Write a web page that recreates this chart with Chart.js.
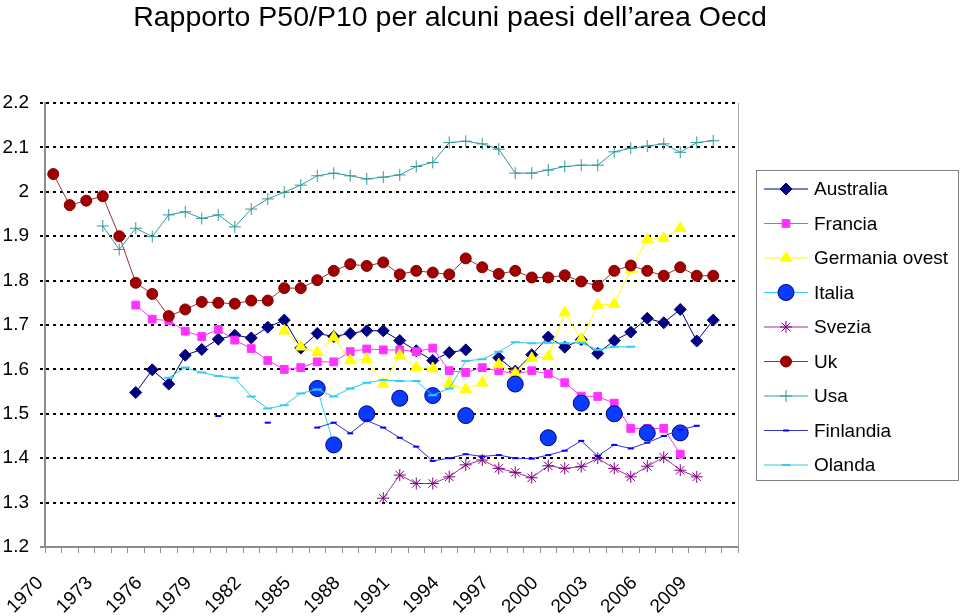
<!DOCTYPE html>
<html>
<head>
<meta charset="utf-8">
<script src="https://cdn.jsdelivr.net/npm/chart.js"></script>
<style>
  html, body { margin: 0; padding: 0; background: #fff; }
  #wrap { position: relative; width: 960px; height: 616px; }
  #title { position: absolute; left: 0; top: 0; width: 900px; text-align: center;
           font: 28.5px/32px 'Liberation Sans', Arial, sans-serif; color: #000; }
  canvas { position: absolute; left: 0; top: 0; }
</style>
</head>
<body>
<div id="wrap">
  <canvas id="chart" width="960" height="616"></canvas>
  <div id="title">Rapporto P50/P10 per alcuni paesi dell’area Oecd</div>
</div>
<script>
const years = ['1970', '1971', '1972', '1973', '1974', '1975', '1976', '1977', '1978', '1979',
  '1980', '1981', '1982', '1983', '1984', '1985', '1986', '1987', '1988', '1989',
  '1990', '1991', '1992', '1993', '1994', '1995', '1996', '1997', '1998', '1999',
  '2000', '2001', '2002', '2003', '2004', '2005', '2006', '2007', '2008', '2009',
  '2010', '2011']

// one value per year, 1970 -> 2011, null where the country has no figure
const australia = [null, null, null, null, null,
  1.548, 1.599, 1.567, 1.632, 1.645, 1.668, 1.677, 1.671, 1.695, 1.711,
  1.648, 1.681, 1.674, 1.681, 1.687, 1.687, 1.665, 1.642, 1.620, 1.638,
  1.644, null, 1.626, 1.596, 1.633, 1.673, 1.650, 1.667, 1.636, 1.665,
  1.684, 1.715, 1.705, 1.735, 1.664, 1.711, null]
const francia = [null, null, null, null, null,
  1.745, 1.713, 1.710, 1.686, 1.674, 1.690, 1.666, 1.647, 1.620, 1.600,
  1.604, 1.617, 1.617, 1.640, 1.646, 1.644, 1.644, 1.640, 1.648, 1.597,
  1.593, 1.604, 1.597, 1.590, 1.597, 1.590, 1.570, 1.540, 1.539, 1.524,
  1.467, 1.467, 1.467, 1.409, null, null, null]
const germaniaOvest = [null, null, null, null, null, null, null, null, null, null,
  null, null, null, null, 1.687, 1.651, 1.638, 1.672, 1.620, 1.623,
  1.567, 1.632, 1.604, 1.602, 1.569, 1.555, 1.570, 1.611, 1.591, 1.625,
  1.629, 1.728, 1.668, 1.745, 1.747, 1.825, 1.893, 1.895, 1.918, null,
  null, null]
const italia = [null, null, null, null, null, null, null, null, null, null,
  null, null, null, null, null, null, 1.557, 1.430, null, 1.500,
  null, 1.535, null, 1.541, null, 1.496, null, null, 1.567, null,
  1.446, null, 1.524, null, 1.500, null, 1.457, null, 1.457, null,
  null, null]
const svezia = [null, null, null, null, null, null, null, null, null, null,
  null, null, null, null, null, null, null, null, null, null,
  1.310, 1.362, 1.343, 1.343, 1.358, 1.385, 1.396, 1.377, 1.368, 1.356,
  1.383, 1.377, 1.381, 1.400, 1.377, 1.358, 1.382, 1.402, 1.373, 1.358,
  null, null]
const uk = [2.040, 1.970, 1.980, 1.990, 1.900, 1.795, 1.770, 1.720, 1.735, 1.752,
  1.750, 1.748, 1.755, 1.755, 1.783, 1.783, 1.801, 1.822, 1.837, 1.833,
  1.841, 1.814, 1.822, 1.818, 1.814, 1.850, 1.830, 1.815, 1.822, 1.807,
  1.807, 1.812, 1.798, 1.788, 1.822, 1.834, 1.822, 1.811, 1.830, 1.811,
  1.811, null]
const usa = [null, null, null, 1.923, 1.870, 1.918, 1.899, 1.948, 1.955, 1.940,
  1.948, 1.921, 1.961, 1.984, 1.999, 2.015, 2.036, 2.042, 2.036, 2.029,
  2.033, 2.038, 2.057, 2.066, 2.111, 2.114, 2.108, 2.096, 2.042, 2.042,
  2.049, 2.057, 2.060, 2.060, 2.090, 2.098, 2.103, 2.108, 2.089, 2.111,
  2.115, null]
const finlandia = [null, null, null, null, null, null, null, null, null, null,
  1.495, null, null, 1.480, null, null, 1.469, 1.480, 1.456, 1.485,
  1.469, 1.446, 1.426, 1.394, 1.400, 1.409, 1.404, 1.407, 1.400, 1.399,
  1.407, 1.417, 1.439, 1.405, 1.430, 1.422, 1.435, 1.450, 1.464, 1.473,
  null, null]
const olanda = [null, null, null, null, null, null, null, 1.581, 1.604, 1.593,
  1.585, 1.581, 1.539, 1.512, 1.519, 1.546, 1.555, 1.539, 1.557, 1.570,
  1.576, 1.574, 1.574, 1.542, 1.557, 1.619, 1.623, 1.640, 1.661, 1.659,
  1.660, 1.659, 1.660, 1.644, 1.651, 1.651, null, null, null, null,
  null, null]

const FONT = "'Liberation Sans', Arial, sans-serif"
Chart.defaults.font.family = FONT
Chart.defaults.color = '#000'

const series = function series(label, data, line, style, radius, fill, border, borderWidth) {
  return {
    label: label,
    data: data,
    borderColor: line,
    borderWidth: 1,
    pointStyle: style,
    pointRadius: radius,
    pointBackgroundColor: fill,
    pointBorderColor: border,
    pointBorderWidth: borderWidth,
    pointHoverRadius: radius,
    tension: 0,
    fill: false
  }
}

const datasets = [
  series('Australia', australia, '#000080', 'rectRot', 6, '#000080', '#000080', 1),
  series('Francia', francia, '#ff33ff', 'rect', 5.5, '#ff33ff', '#ff33ff', 1),
  series('Germania ovest', germaniaOvest, '#ffff00', 'triangle', 6.5, '#ffff00', '#ffff00', 1),
  series('Italia', italia, '#33ccff', 'circle', 8, '#0a3cff', '#000080', 1),
  series('Svezia', svezia, '#993399', 'star', 6, '#800080', '#800080', 1),
  series('Uk', uk, '#993333', 'circle', 5.5, '#a00000', '#800000', 1),
  series('Usa', usa, '#339999', 'cross', 6, '#339999', '#339999', 1),
  series('Finlandia', finlandia, '#3333cc', 'line', 3, '#0000ff', '#0000ff', 2),
  series('Olanda', olanda, '#33cccc', 'line', 4.5, '#33ccff', '#33ccff', 2)
]
// later series sit on top, as in the original
datasets.forEach((ds, i) => { ds.order = datasets.length - i })

const frame = {
  id: 'frame',
  afterDraw(chart) {
    const ctx = chart.ctx
    const area = chart.chartArea
    ctx.save()
    // right edge of plot area
    ctx.strokeStyle = '#a6a6a6'
    ctx.lineWidth = 1
    ctx.beginPath()
    ctx.moveTo(Math.round(area.right) + 0.5, area.top)
    ctx.lineTo(Math.round(area.right) + 0.5, area.bottom)
    ctx.stroke()

    // legend, line + marker like the spreadsheet one
    ctx.strokeStyle = '#808080'
    ctx.strokeRect(756.5, 170.5, 202, 310)
    chart.data.datasets.forEach((ds, i) => {
      const y = 189 + i * 34.5
      ctx.strokeStyle = ds.borderColor
      ctx.lineWidth = 1
      ctx.beginPath()
      ctx.moveTo(764, y)
      ctx.lineTo(808, y)
      ctx.stroke()
      ctx.fillStyle = ds.pointBackgroundColor
      ctx.strokeStyle = ds.pointBorderColor
      ctx.lineWidth = ds.pointBorderWidth
      Chart.helpers.drawPoint(ctx, {
        pointStyle: ds.pointStyle, radius: ds.pointRadius, rotation: 0, borderWidth: ds.pointBorderWidth
      }, 786, y)
      ctx.fillStyle = '#000'
      ctx.font = '19px ' + FONT
      ctx.textBaseline = 'middle'
      ctx.textAlign = 'left'
      ctx.fillText(ds.label, 814, y + 1)
    })
    ctx.restore()
  }
}

const isBase = (c) => c.tick && Math.abs(c.tick.value - 1.2) < 1e-6

new Chart(document.getElementById('chart'), {
  type: 'line',
  data: { labels: years, datasets: datasets },
  options: {
    responsive: false,
    animation: false,
    events: [],
    layout: { padding: { top: 103, right: 222, left: 0, bottom: 0 } },
    plugins: {
      legend: { display: false },
      title: { display: false },
      tooltip: { enabled: false }
    },
    scales: {
      x: {
        type: 'category',
        offset: true,
        grid: {
          offset: true,
          drawOnChartArea: false,
          drawTicks: true,
          tickLength: 6,
          color: '#8c8c8c',
          lineWidth: 1
        },
        border: { display: true, color: '#8c8c8c', width: 2 },
        ticks: {
          autoSkip: false,
          maxRotation: 45,
          minRotation: 45,
          padding: 19,
          labelOffset: -13,
          font: { size: 19 },
          color: '#000',
          callback: function (value, index) {
            return index % 3 === 0 ? years[index] : ''
          }
        },
        afterFit: function (scale) { scale.height = 69 }
      },
      y: {
        min: 1.2,
        max: 2.2,
        grid: {
          color: (c) => isBase(c) ? 'rgba(0,0,0,0)' : '#000',
          tickColor: (c) => isBase(c) ? '#8c8c8c' : '#000',
          lineWidth: 2,
          tickLength: 5,
          tickBorderDash: (c) => isBase(c) ? [] : [3, 4]
        },
        border: { display: true, color: '#8c8c8c', width: 2, dash: [3, 4] },
        ticks: {
          stepSize: 0.1,
          padding: 11,
          font: { size: 19 },
          color: '#000',
          callback: (v) => String(Number(v.toFixed(1)))
        },
        afterFit: function (scale) { scale.width = 45 }
      }
    }
  },
  plugins: [frame]
})
</script>
</body>
</html>
